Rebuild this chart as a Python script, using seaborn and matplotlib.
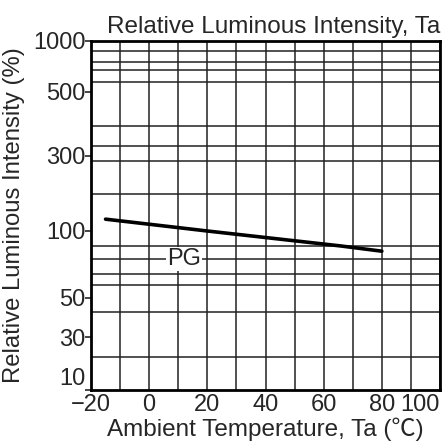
import numpy as np
import pandas as pd
import matplotlib
matplotlib.use('Agg')
import matplotlib.pyplot as plt
import seaborn as sns

# Curve (temperature in C, relative intensity in %)
temp = [-15, 20, 66, 80]
intensity = [132, 100, 90, 86]

x_ticks = [-20, 0, 20, 40, 60, 80, 100]
x_grid = [-10, 10, 30, 50, 70, 90]
y_ticks = [10, 30, 50, 100, 300, 500, 1000]
y_labels = ['10', '30', '50', '100', '300', '500', '1000']

# The printed paper is not a true log scale: calibrate value -> height fraction
paper_vals = [1, 10, 20, 30, 40, 50, 60, 70, 80, 90, 100,
              200, 285, 330, 400, 500, 600, 700, 800, 900, 1000, 10000]
paper_rows = [500, 390, 357, 337, 312, 298, 285, 274, 259, 246, 231,
              194, 161, 146, 126, 92, 82, 70, 62, 51, 41, -100]
paper_pos = [(390 - r) / 349 for r in paper_rows]
y_grid = paper_vals[2:-2]


def fwd(v):
    return np.interp(v, paper_vals, paper_pos)


def inv(p):
    return np.interp(p, paper_pos, paper_vals)


sns.set_style('white')
plt.rcParams['font.family'] = ['Liberation Sans', 'Noto Sans CJK SC', 'DejaVu Sans']

fig = plt.figure(figsize=(4.45, 4.46), dpi=100)
ax = fig.add_axes([91 / 445, 1 - 390 / 446, 349 / 445, 349 / 446])
ax.set_yscale('function', functions=(fwd, inv))

df = pd.DataFrame({'Ta': temp, 'Iv': intensity})
sns.lineplot(data=df, x='Ta', y='Iv', color='black', linewidth=2.6, ax=ax)

ax.set_xlim(-20, 100)
ax.set_ylim(10, 1000)
ax.set_xticks(x_ticks)
ax.set_xticks(x_grid, minor=True)
ax.set_yticks(y_ticks)
ax.set_yticklabels(y_labels)
ax.set_yticks(y_grid, minor=True)
ax.yaxis.set_minor_formatter(matplotlib.ticker.NullFormatter())

ax.grid(axis='x', which='both', color='#222222', linewidth=1.1)
ax.grid(axis='y', which='minor', color='#222222', linewidth=1.1)
ax.grid(axis='y', which='major', visible=False)
ax.set_axisbelow(True)

for s in ax.spines.values():
    s.set_visible(True)
    s.set_color('black')
    s.set_linewidth(2)

ax.tick_params(axis='both', which='minor', length=0)
ax.tick_params(axis='y', which='major', length=4, width=1.2, direction='out',
               pad=0, labelsize=17, left=True)
ax.tick_params(axis='x', which='major', length=0, pad=3, labelsize=17)

# bottom y label sits above the corner, end x labels pulled inward
yl = ax.get_yticklabels()
yl[0].set_va('bottom')
xl = ax.get_xticklabels()
xl[-1].set_ha('right')
xl[-1].set_x(100)

ax.text(12, 80, 'PG', fontsize=17, ha='center', va='center',
        bbox=dict(facecolor='white', edgecolor='none', pad=1))

ax.set_title('Relative Luminous Intensity, Ta', loc='right', fontsize=17.5, pad=6)
ax.set_xlabel('Ambient Temperature, Ta (℃)', fontsize=17.5, labelpad=1)
ax.set_ylabel('Relative Luminous Intensity (%)', fontsize=17.2, labelpad=6)

fig.savefig('out.png', dpi=100)
